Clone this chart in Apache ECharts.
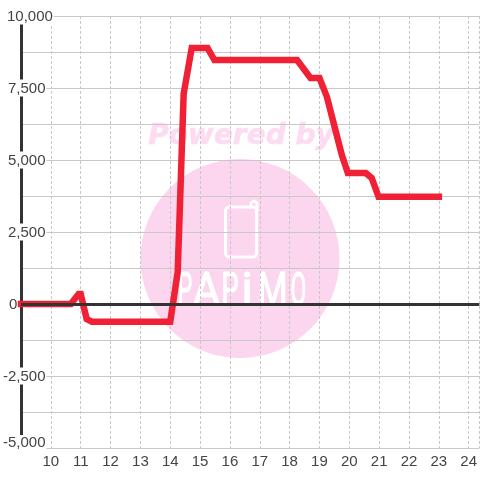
<!DOCTYPE html>
<html><head><meta charset="utf-8">
<style>html,body{margin:0;padding:0;background:#fff}#c{width:480px;height:480px}</style>
<script src="https://cdn.jsdelivr.net/npm/echarts@6/dist/echarts.min.js"></script>
</head><body><div id="c"></div>
<script>
const hours = [9,10.67,10.93,11.0,11.2,11.38,14.0,14.25,14.45,14.72,15.25,15.48,18.25,18.7,19.0,19.25,19.52,19.75,19.95,20.55,20.75,20.98,23];
const values = [0,0,350,350,-520,-620,-620,1100,7300,8890,8890,8470,8470,7850,7850,7190,6100,5170,4550,4550,4375,3720,3720];
const yLabelled = [-5000,-2500,0,2500,5000,7500,10000];
const logoLetters = ['P','A','P','i','M','O'];
const logoCentres = [185,206.5,230,247,272.5,298.5];
const logoScales = [0.5,0.9,0.6,1,0.75,0.5];
const chart = echarts.init(document.getElementById('c'),null,{renderer:'canvas'});
const pink='#fcd5ee';
const base={fontFamily:'Liberation Sans',fontSize:15,color:'#444'};
chart.setOption({
  animation:false,
  backgroundColor:'#fff',
  grid:{left:19.3,right:0,top:16,bottom:32,containLabel:false},
  xAxis:{type:'value',min:9,max:24.357,interval:1,
    axisLine:{show:false},axisTick:{show:false},
    axisLabel:{fontFamily:'Liberation Sans',fontSize:15,color:'#444',margin:6,showMinLabel:false,showMaxLabel:false,
      formatter:v=>(v>=10&&v<=24)?String(v):''},
    splitLine:{show:true,lineStyle:{color:'#c8c8c8',type:[3,2],width:1}}},
  yAxis:{type:'value',min:-5000,max:10000,interval:1250,
    axisLine:{show:true,onZero:false,lineStyle:{color:'#333',width:3}},axisTick:{show:false},
    axisLabel:{align:'left',margin:18,
      formatter:v=>{ if(!yLabelled.includes(v)) return '';
        const s=v.toLocaleString('en-US');
        const k=v===-5000?'b':v<0?'n':v===0?'z':v===10000?'t':'p';
        return '{'+k+'|'+s+'}';},
      rich:{
        b:{...base,backgroundColor:'#fff',padding:[0,1,11,0]},
        n:{...base,backgroundColor:'#fff',padding:[2,1,0,0]},
        z:{...base,padding:[2,0,0,6]},
        p:{...base,backgroundColor:'#fff',padding:[2,1,0,5]},
        t:{...base,backgroundColor:'#fff',padding:[2,1,0,4]}
      }},
    splitLine:{show:true,lineStyle:{color:'#c8c8c8',width:1}}},
  graphic:[
    {type:'circle',z:-10,silent:true,shape:{cx:240,cy:258.5,r:99.5},style:{fill:pink}},
    {type:'text',z:-9,silent:true,style:{text:'Powered by',x:241,y:136.5,align:'center',verticalAlign:'middle',font:'italic bold 28px "DejaVu Sans"',fill:'#fddcf1',stroke:'#fddcf1',lineWidth:0.6}},
    {type:'rect',z:-9,silent:true,shape:{x:225.5,y:207,width:31,height:50,r:4},style:{fill:'none',stroke:'#fff',lineWidth:3}},
    {type:'polyline',z:-9,silent:true,shape:{points:[[249,207],[251,207],[251,203],[254,201],[257,203],[257,212]]},style:{fill:'none',stroke:'#fff',lineWidth:3,lineJoin:'round'}},
    ...logoLetters.map((t,i)=>({type:'text',z:-9,silent:true,x:logoCentres[i],y:293,scaleX:logoScales[i],
      style:{text:t,x:0,y:0,align:'center',verticalAlign:'middle',font:'46px "Roboto"',fill:'#fff',stroke:'#fff',lineWidth:1.2}}))
  ],
  series:[
    {type:'line',z:1,data:[],markLine:{silent:true,symbol:'none',label:{show:false},animation:false,lineStyle:{color:'#333',width:3,type:'solid'},data:[{yAxis:0}]}},
    {type:'line',z:3,data:hours.map((h,i)=>[h,values[i]]),showSymbol:false,clip:false,
     lineStyle:{color:'#f02035',width:6.5,cap:'square',join:'miter'}}
  ]
});
</script></body></html>
